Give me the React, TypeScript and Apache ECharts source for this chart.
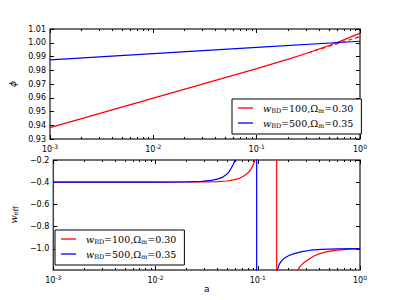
import React, { useEffect, useRef } from 'react';
import * as echarts from 'echarts';

// ---- tick positions ----
const X_MAJOR = [0.001, 0.01, 0.1, 1];
const X_MINOR = [
  0.002, 0.003, 0.004, 0.005, 0.006, 0.007, 0.008, 0.009,
  0.02, 0.03, 0.04, 0.05, 0.06, 0.07, 0.08, 0.09,
  0.2, 0.3, 0.4, 0.5, 0.6, 0.7, 0.8, 0.9,
];
const WEFF_TICKS = [-1.0, -0.8, -0.6, -0.4, -0.2];

// ---- legend entries ----
const LEGEND_NAMES = ['wBD100', 'wBD500'];
const LEGEND_WBD = ['100', '500'];
const LEGEND_OM = ['0.30', '0.35'];

// ---- top panel: phi(a) ----
const phiRed = [
  [0.001, 0.9383], [0.01, 0.9597], [0.1, 0.9812], [0.1995, 0.9879],
  [0.3162, 0.9927], [0.5012, 0.998], [0.7079, 1.0023], [1, 1.007],
];
const phiRedDashed = [
  [0.3162, 0.9927], [1, 1.0045],
];
const phiBlue = [
  [0.001, 0.9876], [0.01, 0.9921], [0.1, 0.9966], [1, 1.0011],
];

// ---- bottom panel: w_eff(a) ----
const weffRed = [
  [0.001, -0.4], [0.005, -0.4], [0.01, -0.399], [0.02, -0.398], [0.03, -0.397],
  [0.041, -0.395], [0.05, -0.389], [0.0594, -0.377], [0.067, -0.362], [0.0743, -0.34],
  [0.081, -0.313], [0.0863, -0.279], [0.09, -0.248], [0.0929, -0.209], [0.096, -0.12],
  [0.11, 3], [0.153, 60], [0.153, -60], [0.244, -60], [0.24, -1.5],
  [0.248, -1.19], [0.255, -1.165], [0.265, -1.15], [0.283, -1.122], [0.315, -1.093],
  [0.355, -1.064], [0.41, -1.04], [0.478, -1.025], [0.57, -1.014], [0.692, -1.007],
  [0.85, -1.0], [1, -0.997],
];
const weffBlue = [
  [0.001, -0.4], [0.005, -0.4], [0.01, -0.399], [0.02, -0.396], [0.0283, -0.392],
  [0.035, -0.384], [0.041, -0.37], [0.0455, -0.354], [0.0494, -0.331], [0.0525, -0.305],
  [0.0552, -0.27], [0.0575, -0.24], [0.0594, -0.209], [0.062, -0.12], [0.07, 2],
  [0.0975, 60], [0.0975, -60], [0.153, -60], [0.153, -1.3], [0.1555, -1.2],
  [0.158, -1.17], [0.162, -1.14], [0.17, -1.11], [0.181, -1.085], [0.2, -1.062],
  [0.2265, -1.043], [0.27, -1.025], [0.329, -1.012], [0.42, -1.005], [0.596, -1.0],
  [1, -0.997],
];

const RED = '#ff0000';
const BLUE = '#0000ff';
const SANS = 'DejaVu Sans';
const SERIF = 'DejaVu Serif';
const FRAME = '#444';

const xLabelRich = {
  b: { fontFamily: SANS, fontSize: 8, color: '#000' },
  s: { fontFamily: SANS, fontSize: 6, color: '#000', padding: [0, 0, 6, 0] },
};
const xLabelFormatter = (v: number) => {
  const e = Math.round(Math.log10(v));
  return `{b|10}{s|${e}}`;
};

function makeXAxes(gridIndex: number, withName: boolean) {
  const base: any = {
    type: 'log', logBase: 10, min: 0.001, max: 1, gridIndex,
    axisLine: { show: false }, splitLine: { show: false }, minorTick: { show: false },
  };
  const major = { show: true, inside: true, length: 4, lineStyle: { color: '#000', width: 1 } };
  const minor = { show: true, inside: true, length: 2, lineStyle: { color: '#000', width: 1 }, customValues: X_MINOR };
  return [
    {
      ...base, position: 'bottom',
      axisTick: { ...major, customValues: X_MAJOR },
      axisLabel: { show: true, customValues: X_MAJOR, formatter: xLabelFormatter, rich: xLabelRich, margin: 4 },
      name: withName ? 'a' : '',
      nameLocation: 'middle', nameGap: 14,
      nameTextStyle: { fontFamily: SANS, fontSize: 9, color: '#000' },
    },
    { ...base, position: 'bottom', axisTick: minor, axisLabel: { show: false } },
    { ...base, position: 'top', axisTick: { ...major, customValues: X_MAJOR }, axisLabel: { show: false } },
    { ...base, position: 'top', axisTick: minor, axisLabel: { show: false } },
  ];
}

const legendRich = {
  w: { fontFamily: SERIF, fontStyle: 'italic', fontSize: 9.5, color: '#000', padding: [0, 0, 0, 5] },
  s: { fontFamily: SERIF, fontSize: 6.5, color: '#000', padding: [5, 0, 0, 0] },
  t: { fontFamily: SERIF, fontSize: 9.5, color: '#000' },
};
const legendFormatter = (name: string) => {
  const i = LEGEND_NAMES.indexOf(name);
  return `{w|w}{s|BD}{t|=${LEGEND_WBD[i]},Ω}{s|m}{t|=${LEGEND_OM[i]}}`;
};

function makeLegend(left: number, top: number) {
  return {
    show: true, orient: 'vertical', left, top,
    data: LEGEND_NAMES.map((n) => ({ name: n, icon: 'rect' })),
    itemWidth: 15, itemHeight: 1.3, itemGap: 4,
    padding: [4, 8, 5, 6],
    borderColor: '#000', borderWidth: 1, borderRadius: 0,
    backgroundColor: '#fff',
    formatter: legendFormatter,
    textStyle: { rich: legendRich },
    selectedMode: false,
  };
}

export default function App() {
  const ref = useRef<HTMLDivElement>(null);
  useEffect(() => {
    if (!ref.current) return;
    const chart = echarts.init(ref.current, undefined, { renderer: 'svg' });
    const lineSeries = (name: string, data: number[][], color: string, xi: number, yi: number, dashed = false) => ({
      type: 'line', name, data, xAxisIndex: xi, yAxisIndex: yi,
      symbol: 'none', showSymbol: false, clip: true, smooth: false,
      lineStyle: { color, width: 1.2, type: dashed ? [4, 3] : 'solid' },
      itemStyle: { color },
    });
    chart.setOption({
      animation: false,
      backgroundColor: '#fff',
      grid: [
        { left: 50, top: 29, width: 310, height: 110, show: true, borderColor: FRAME, borderWidth: 1.5, backgroundColor: 'transparent' },
        { left: 50, top: 160, width: 310, height: 110, show: true, borderColor: FRAME, borderWidth: 1.5, backgroundColor: 'transparent' },
      ],
      legend: [makeLegend(232, 99), makeLegend(55, 230)],
      xAxis: [...makeXAxes(0, false), ...makeXAxes(1, true)],
      yAxis: [
        {
          type: 'value', gridIndex: 0, position: 'left', min: 0.93, max: 1.01, interval: 0.01,
          axisLine: { show: false }, splitLine: { show: false },
          axisTick: { show: true, inside: true, length: 4, lineStyle: { color: '#000' } },
          axisLabel: { fontFamily: SANS, fontSize: 8, color: '#000', margin: 4, formatter: (v: number) => v.toFixed(2) },
          name: 'ϕ', nameLocation: 'middle', nameGap: 29, nameRotate: 90,
          nameTextStyle: { fontFamily: SANS, fontStyle: 'italic', fontSize: 9, color: '#000' },
        },
        {
          type: 'value', gridIndex: 0, position: 'right', min: 0.93, max: 1.01, interval: 0.01,
          axisLine: { show: false }, splitLine: { show: false },
          axisTick: { show: true, inside: true, length: 4, lineStyle: { color: '#000' } },
          axisLabel: { show: false },
        },
        {
          type: 'value', gridIndex: 1, position: 'left', min: -1.19, max: -0.2,
          axisLine: { show: false }, splitLine: { show: false },
          axisTick: { show: true, inside: true, length: 4, lineStyle: { color: '#000' }, customValues: WEFF_TICKS },
          axisLabel: {
            fontFamily: SANS, fontSize: 8, color: '#000', margin: 4, customValues: WEFF_TICKS,
            formatter: (v: number) => (v < 0 ? '\u2212' : '') + Math.abs(v).toFixed(1),
          },
          name: '{w|w}{s|eff}', nameLocation: 'middle', nameGap: 25, nameRotate: 90,
          nameTextStyle: {
            rich: {
              w: { fontFamily: SERIF, fontStyle: 'italic', fontSize: 10, color: '#000' },
              s: { fontFamily: SERIF, fontSize: 7, color: '#000', padding: [5, 0, 0, 0] },
            },
          },
        },
        {
          type: 'value', gridIndex: 1, position: 'right', min: -1.19, max: -0.2,
          axisLine: { show: false }, splitLine: { show: false },
          axisTick: { show: true, inside: true, length: 4, lineStyle: { color: '#000' }, customValues: WEFF_TICKS },
          axisLabel: { show: false },
        },
      ],
      series: [
        lineSeries('wBD100', phiRed, RED, 0, 0),
        lineSeries('wBD500', phiBlue, BLUE, 0, 0),
        lineSeries('dashed', phiRedDashed, RED, 0, 0, true),
        lineSeries('wBD100', weffRed, RED, 4, 2),
        lineSeries('wBD500', weffBlue, BLUE, 4, 2),
      ],
    });
    return () => chart.dispose();
  }, []);
  return (
    <div
      ref={ref}
      style={{ position: 'fixed', left: 0, top: 0, width: 400, height: 300, background: '#fff' }}
    />
  );
}
